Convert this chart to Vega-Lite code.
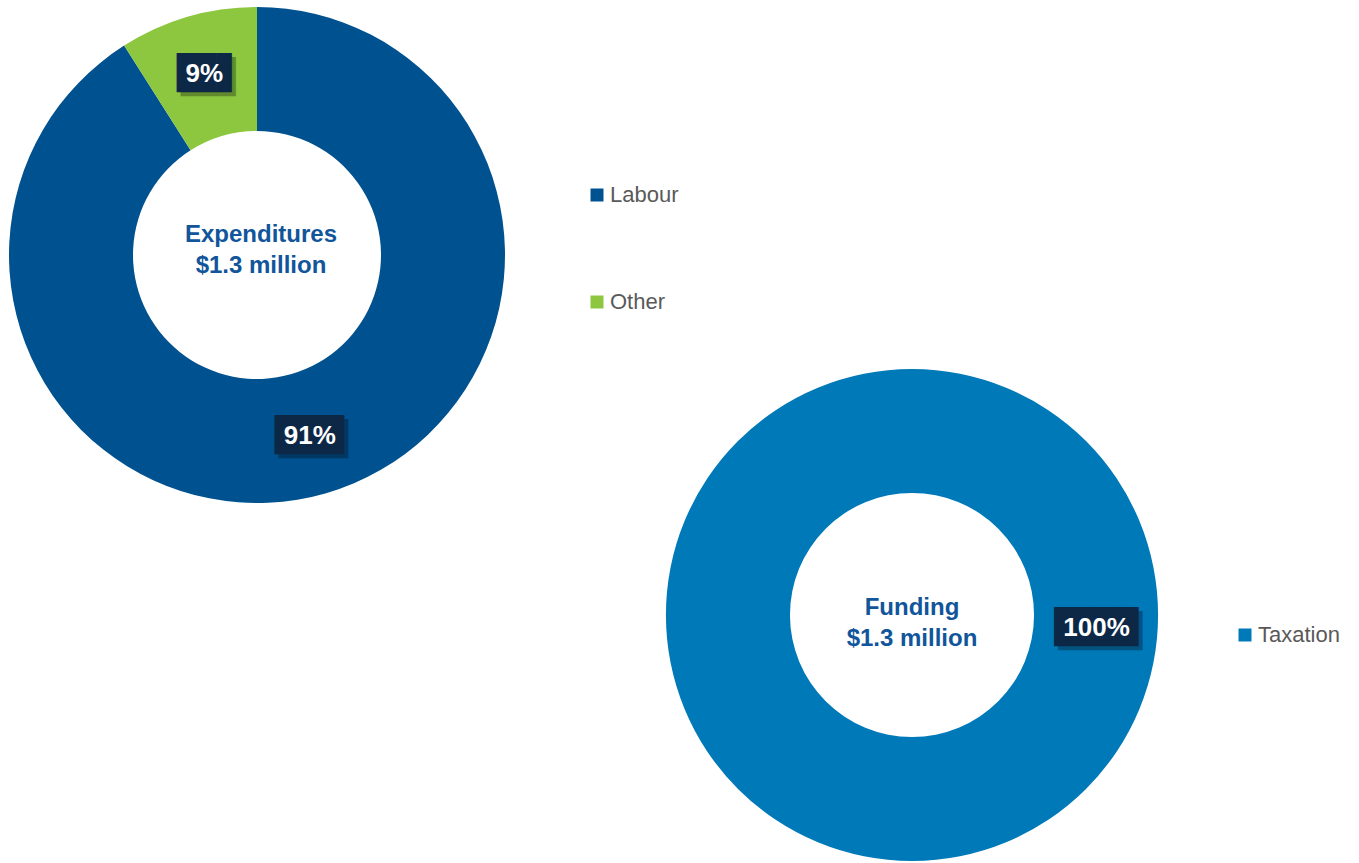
{
  "$schema": "https://vega.github.io/schema/vega-lite/v6.json",
  "width": 1359,
  "height": 863,
  "autosize": "none",
  "padding": 0,
  "background": "white",
  "config": {"view": {"stroke": null}, "font": "Liberation Sans"},
  "datasets": {
    "shares": [
      {"chart": "Expenditures", "category": "Labour", "value": 91, "label": "91%"},
      {"chart": "Expenditures", "category": "Other", "value": 9, "label": "9%"},
      {"chart": "Funding", "category": "Taxation", "value": 100, "label": "100%"}
    ],
    "centers": [
      {"chart": "Expenditures", "title": ["Expenditures", "$1.3 million"]},
      {"chart": "Funding", "title": ["Funding", "$1.3 million"]}
    ]
  },
  "encoding": {
    "x": {"field": "chart", "type": "nominal", "axis": null, "scale": {"type": "point", "padding": 0, "domain": ["Expenditures", "Funding"], "range": [257, 912]}},
    "y": {"field": "chart", "type": "nominal", "axis": null, "scale": {"type": "point", "padding": 0, "domain": ["Expenditures", "Funding"], "range": [255, 615]}}
  },
  "layer": [
    {
      "data": {"name": "shares"},
      "transform": [{"filter": "datum.chart === 'Expenditures'"}],
      "mark": {"type": "arc", "outerRadius": 248, "innerRadius": 124},
      "encoding": {
        "theta": {"field": "value", "type": "quantitative", "stack": true},
        "order": {"field": "value", "sort": "descending"},
        "color": {
          "field": "category", "type": "nominal",
          "scale": {"domain": ["Labour", "Other"], "range": ["#00518F", "#8DC63F"]},
          "legend": {"title": null, "orient": "none", "legendX": 586, "legendY": 184, "symbolType": "square", "symbolSize": 169, "symbolStrokeWidth": 0, "labelFontSize": 22, "labelFont": "Liberation Sans", "labelColor": "#595959", "rowPadding": 85, "labelOffset": 2}
        }
      }
    },
    {
      "data": {"name": "shares"},
      "transform": [{"filter": "datum.chart === 'Funding'"}],
      "mark": {"type": "arc", "outerRadius": 246, "innerRadius": 122},
      "encoding": {
        "theta": {"field": "value", "type": "quantitative", "stack": true},
        "color": {
          "field": "category", "type": "nominal",
          "scale": {"domain": ["Taxation"], "range": ["#0079B8"]},
          "legend": {"title": null, "orient": "none", "legendX": 1234, "legendY": 624, "symbolType": "square", "symbolSize": 169, "symbolStrokeWidth": 0, "labelFontSize": 22, "labelFont": "Liberation Sans", "labelColor": "#595959", "labelOffset": 2}
        }
      }
    },
    {
      "data": {"name": "shares"},
      "transform": [{"filter": "datum.chart === 'Expenditures'"}],
      "mark": {"type": "text", "radius": 189, "dx": 6.5, "dy": 4, "font": "DejaVu Sans Mono", "fontSize": 33, "baseline": "middle", "align": "center", "color": "black", "opacity": 0.3},
      "encoding": {
        "theta": {"field": "value", "type": "quantitative", "stack": true},
        "order": {"field": "value", "sort": "descending"},
        "text": {"condition": {"test": "datum.category === 'Other'", "value": "██▊"}, "value": ""}
      }
    },
    {
      "data": {"name": "shares"},
      "transform": [{"filter": "datum.chart === 'Expenditures'"}],
      "mark": {"type": "text", "radius": 189, "dx": 9, "dy": 4, "font": "DejaVu Sans Mono", "fontSize": 33, "baseline": "middle", "align": "center", "color": "black", "opacity": 0.3},
      "encoding": {
        "theta": {"field": "value", "type": "quantitative", "stack": true},
        "order": {"field": "value", "sort": "descending"},
        "text": {"condition": {"test": "datum.category === 'Labour'", "value": "███▌"}, "value": ""}
      }
    },
    {
      "data": {"name": "shares"},
      "transform": [{"filter": "datum.chart === 'Expenditures'"}],
      "mark": {"type": "text", "radius": 189, "dx": 2.5, "font": "DejaVu Sans Mono", "fontSize": 33, "baseline": "middle", "align": "center", "color": "#0D2847"},
      "encoding": {
        "theta": {"field": "value", "type": "quantitative", "stack": true},
        "order": {"field": "value", "sort": "descending"},
        "text": {"condition": {"test": "datum.category === 'Other'", "value": "██▊"}, "value": ""}
      }
    },
    {
      "data": {"name": "shares"},
      "transform": [{"filter": "datum.chart === 'Expenditures'"}],
      "mark": {"type": "text", "radius": 189, "dx": 5, "font": "DejaVu Sans Mono", "fontSize": 33, "baseline": "middle", "align": "center", "color": "#0D2847"},
      "encoding": {
        "theta": {"field": "value", "type": "quantitative", "stack": true},
        "order": {"field": "value", "sort": "descending"},
        "text": {"condition": {"test": "datum.category === 'Labour'", "value": "███▌"}, "value": ""}
      }
    },
    {
      "data": {"name": "shares"},
      "transform": [{"filter": "datum.chart === 'Expenditures'"}],
      "mark": {"type": "text", "radius": 189, "fontSize": 26, "fontWeight": "bold", "baseline": "middle", "align": "center", "color": "white"},
      "encoding": {
        "theta": {"field": "value", "type": "quantitative", "stack": true},
        "order": {"field": "value", "sort": "descending"},
        "text": {"field": "label"}
      }
    },
    {
      "data": {"name": "shares"},
      "transform": [{"filter": "datum.chart === 'Funding'"}],
      "mark": {"type": "text", "radius": 185, "theta": 1.639, "dx": 11.5, "dy": 4, "font": "DejaVu Sans Mono", "fontSize": 33, "baseline": "middle", "align": "center", "color": "black", "opacity": 0.3},
      "encoding": {"text": {"value": "████▎"}}
    },
    {
      "data": {"name": "shares"},
      "transform": [{"filter": "datum.chart === 'Funding'"}],
      "mark": {"type": "text", "radius": 185, "theta": 1.639, "dx": 7.5, "font": "DejaVu Sans Mono", "fontSize": 33, "baseline": "middle", "align": "center", "color": "#0D2847"},
      "encoding": {"text": {"value": "████▎"}}
    },
    {
      "data": {"name": "shares"},
      "transform": [{"filter": "datum.chart === 'Funding'"}],
      "mark": {"type": "text", "radius": 185, "theta": 1.639, "fontSize": 26, "fontWeight": "bold", "baseline": "middle", "align": "center", "color": "white"},
      "encoding": {"text": {"field": "label"}}
    },
    {
      "data": {"name": "centers"},
      "transform": [{"filter": "datum.chart === 'Expenditures'"}],
      "mark": {"type": "text", "fontSize": 24, "fontWeight": "bold", "baseline": "middle", "align": "center", "lineHeight": 31, "dx": 4, "dy": -20, "color": "#11559B"},
      "encoding": {"text": {"field": "title"}}
    },
    {
      "data": {"name": "centers"},
      "transform": [{"filter": "datum.chart === 'Funding'"}],
      "mark": {"type": "text", "fontSize": 24, "fontWeight": "bold", "baseline": "middle", "align": "center", "lineHeight": 31, "dy": -7, "color": "#11559B"},
      "encoding": {"text": {"field": "title"}}
    }
  ],
  "resolve": {"scale": {"color": "independent"}, "legend": {"color": "independent"}}
}
